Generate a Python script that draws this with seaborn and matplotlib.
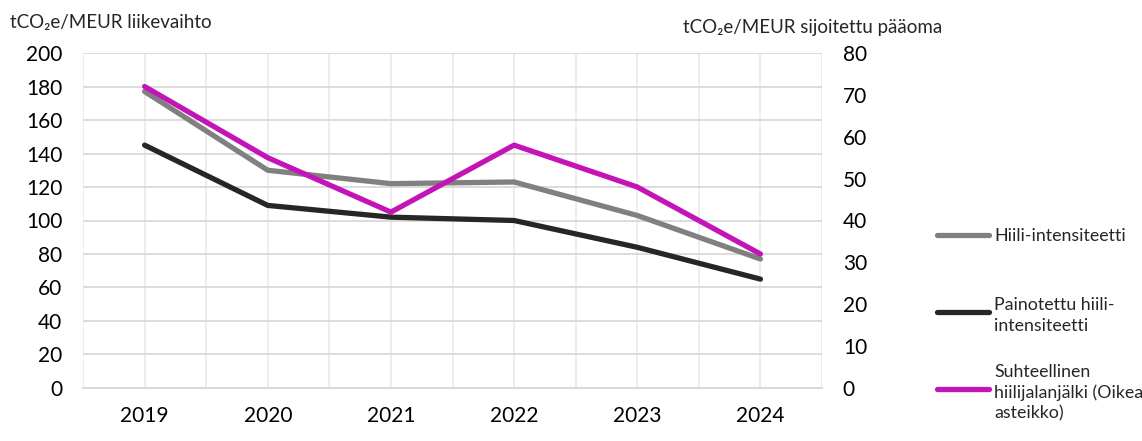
import numpy as np
import pandas as pd
import matplotlib
matplotlib.use("Agg")
import matplotlib.pyplot as plt
from matplotlib.lines import Line2D
import seaborn as sns

years = [2019, 2020, 2021, 2022, 2023, 2024]
hiili_intensiteetti = [177, 130, 122, 123, 103, 77]
painotettu = [145, 109, 102, 100, 84, 65]
suhteellinen = [72, 55, 42, 58, 48, 32]

labels = ["Hiili-intensiteetti",
          "Painotettu hiili-\nintensiteetti",
          "Suhteellinen\nhiilijalanjälki (Oikea\nasteikko)"]
colors = ["#808080", "#262626", "#C414B8"]

sns.set_theme(style="white")
plt.rcParams['font.family'] = ['Lato', 'DejaVu Sans']

df = pd.DataFrame({"year": years, "hi": hiili_intensiteetti,
                   "pa": painotettu, "su": suhteellinen})

fig = plt.figure(figsize=(11.42, 4.41), dpi=100)
ax = fig.add_axes([0.0727, 0.1202, 0.6471, 0.7596])
ax2 = ax.twinx()

lw = 3.8
sns.lineplot(data=df, x="year", y="hi", ax=ax, color=colors[0], linewidth=lw,
             solid_capstyle='round', zorder=3)
sns.lineplot(data=df, x="year", y="pa", ax=ax, color=colors[1], linewidth=lw,
             solid_capstyle='round', zorder=3)
sns.lineplot(data=df, x="year", y="su", ax=ax2, color=colors[2], linewidth=lw,
             solid_capstyle='round', zorder=3)

ax.set_xlim(2018.5, 2024.5)
ax.set_ylim(0, 200)
ax2.set_ylim(0, 80)
ax.set_xticks(years)
ax.set_xticks(np.arange(2018.5, 2025, 1.0), minor=True)
ax.set_yticks(np.arange(0, 201, 20))
ax2.set_yticks(np.arange(0, 81, 10))

grid_c = "#d9d9d9"
ax.grid(True, which='both', axis='x', color="#ececec", linewidth=1.3)
ax.grid(True, which='major', axis='y', color=grid_c, linewidth=1.3)
ax.set_axisbelow(True)

for a in (ax, ax2):
    for s in a.spines.values():
        s.set_visible(False)
    a.set_xlabel("")
    a.set_ylabel("")
ax.spines['bottom'].set_visible(True)
ax.spines['bottom'].set_color(grid_c)
ax.spines['bottom'].set_linewidth(1.5)

ax.tick_params(axis='both', which='both', length=0, labelsize=15, colors="black")
ax.tick_params(axis='y', pad=15)
ax.tick_params(axis='x', pad=13)
ax2.tick_params(axis='y', length=0, labelsize=15, pad=15, colors="black")

fig.text(10 / 1142, 1 - 23 / 441, "tCO₂e/MEUR liikevaihto", fontsize=13.5,
         va='center', ha='left')
fig.text(683 / 1142, 1 - 27 / 441, "tCO₂e/MEUR sijoitettu pääoma", fontsize=13.5,
         va='center', ha='left')

# legend drawn entry by entry so the line sits on the first text row
leg_y = [235, 312, 389]
for lab, c, y in zip(labels, colors, leg_y):
    yf = 1 - y / 441
    fig.add_artist(Line2D([937 / 1142, 989 / 1142], [yf, yf], transform=fig.transFigure,
                          color=c, linewidth=lw, solid_capstyle='round'))
    fig.text(994 / 1142, yf, lab, fontsize=12.8, va='center_baseline', ha='left',
             linespacing=1.35)

fig.savefig("out.png", dpi=100)
